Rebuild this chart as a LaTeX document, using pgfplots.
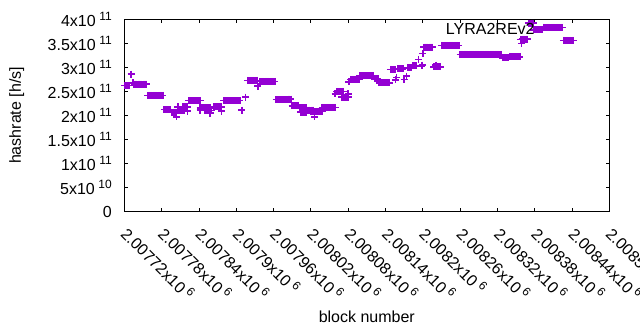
\documentclass[border=0pt]{standalone}
\usepackage{fontspec}
\setmainfont{Liberation Sans}
\usepackage{pgfplots}
\pgfplotsset{compat=1.18}
\definecolor{gpviolet}{HTML}{9400D3}
\newcommand{\sci}[2]{#1x10\hspace{0.22em}\raisebox{5.8pt}{\fontsize{12}{12}\selectfont #2}}
\begin{document}
\fontsize{16}{19}\selectfont
\begin{tikzpicture}
\useasboundingbox (-124.3pt,-118.3pt) rectangle (515.7pt,211.7pt);
\begin{axis}[
  at={(0pt,0pt)}, anchor=south west,
  scale only axis, width=485pt, height=192.4pt,
  xmin=0, xmax=780, ymin=0, ymax=4,
  clip=false,
  axis line style={line width=0.8pt},
  every tick/.style={line width=0.8pt, black},
  tick align=inside, major tick length=3.5pt,
  xtick={0,60,...,780},
  xticklabels={\sci{2.00772}{6},\sci{2.00778}{6},\sci{2.00784}{6},\sci{2.0079}{6},\sci{2.00796}{6},\sci{2.00802}{6},\sci{2.00808}{6},\sci{2.00814}{6},\sci{2.0082}{6},\sci{2.00826}{6},\sci{2.00832}{6},\sci{2.00838}{6},\sci{2.00844}{6},\sci{2.0085}{6}},
  ytick={0,0.5,1,1.5,2,2.5,3,3.5,4},
  yticklabels={0,\sci{5}{10},\sci{1}{11},\sci{1.5}{11},\sci{2}{11},\sci{2.5}{11},\sci{3}{11},\sci{3.5}{11},\sci{4}{11}},
  xticklabel style={rotate=-45, anchor=north west, xshift=8pt, yshift=0pt},
  yticklabel style={anchor=east, xshift=-7pt},
  xlabel={block number},
  ylabel={hashrate [h/s]},
  xlabel style={at={(axis description cs:0.5,-0.547)}, anchor=center},
  ylabel style={at={(axis description cs:-0.222,0.5)}, anchor=center, rotate=0},
  legend plot pos=right,
  legend style={draw=none, fill=none, at={(axis cs:509,3.78)}, anchor=west},
  legend image code/.code={\draw[mark repeat=2,mark phase=2,#1] plot coordinates {(0pt,0pt) (26pt,0pt) (34pt,0pt)};},
]
\addplot[only marks, mark=+, color=gpviolet, mark size=3.5pt, mark options={line width=1.5pt}] coordinates {
(0,2.62)(2,2.62)(4,2.62)(6,2.62)(8,2.62)
(11,2.86)(14,2.68)
(16,2.65)(18,2.65)(20,2.65)(22,2.65)(24,2.65)(26,2.65)(28,2.65)(30,2.65)(32,2.65)(34,2.65)(36,2.65)
(38,2.42)(40,2.42)(42,2.42)(44,2.42)(46,2.42)(48,2.42)(50,2.42)(52,2.42)(54,2.42)(56,2.42)(58,2.42)(60,2.42)(62,2.42)
(64,2.12)(66,2.12)(68,2.12)(70,2.12)(72,2.12)(74,2.12)
(76,2.07)(78,2.07)(80,2.07)(82,2.07)(84,2.07)(84,1.97)(86,2.18)
(86,2.11)(88,2.11)(90,2.11)(92,2.11)(94,2.11)(96,2.11)
(94,2.18)(96,2.18)(98,2.18)(100,2.18)(102,2.18)(102,2.09)
(104,2.31)(106,2.31)(108,2.31)(110,2.31)(112,2.31)(114,2.31)(116,2.31)(118,2.31)(120,2.31)(122,2.31)(122,2.11)
(122,2.16)(124,2.16)(126,2.16)(128,2.16)(130,2.16)(132,2.16)(134,2.16)(136,2.16)(138,2.16)
(130,2.10)(132,2.10)(134,2.10)(136,2.10)(138,2.10)(140,2.10)(138,2.05)
(144,2.18)(146,2.18)(148,2.18)(150,2.18)(152,2.18)(154,2.18)(156,2.18)(156,2.09)
(160,2.31)(162,2.31)(164,2.31)(166,2.31)(168,2.31)(170,2.31)(172,2.31)(174,2.31)(176,2.31)(178,2.31)(180,2.31)(182,2.31)(184,2.31)(186,2.31)
(189,2.11)(195,2.38)
(198,2.73)(200,2.73)(202,2.73)(204,2.73)(206,2.73)(208,2.73)(210,2.73)(212,2.73)(214,2.73)(215,2.61)
(218,2.71)(220,2.71)(222,2.71)(224,2.71)(226,2.71)(228,2.71)(230,2.71)(232,2.71)(234,2.71)(236,2.71)(238,2.71)(240,2.71)(242,2.71)
(244,2.33)(246,2.33)(248,2.33)(250,2.33)(252,2.33)(254,2.33)(256,2.33)(258,2.33)(260,2.33)(262,2.33)
(264,2.34)(266,2.34)(268,2.34)
(270,2.20)(272,2.20)(274,2.20)(276,2.20)(278,2.20)(280,2.20)
(282,2.16)(284,2.16)(286,2.16)(288,2.16)(290,2.16)(292,2.16)
(284,2.07)(286,2.07)(288,2.07)(290,2.07)(292,2.07)
(294,2.11)(296,2.11)(298,2.11)(300,2.11)(302,2.11)(304,2.11)(306,1.97)
(300,2.08)(302,2.08)(304,2.08)(306,2.08)(308,2.08)(310,2.08)(312,2.08)(314,2.08)(316,2.08)(318,2.08)
(318,2.17)(320,2.17)(322,2.17)(324,2.17)(326,2.17)(328,2.17)(330,2.17)(332,2.17)(334,2.17)(336,2.17)(338,2.17)(340,2.17)
(339,2.45)
(342,2.50)(344,2.50)(346,2.50)(348,2.50)(350,2.50)(352,2.50)
(350,2.38)(352,2.38)(354,2.38)(356,2.38)(358,2.38)(360,2.38)(360,2.45)(361,2.70)
(364,2.75)(366,2.75)(368,2.75)(370,2.75)(372,2.75)(374,2.75)(376,2.75)(378,2.75)
(378,2.83)(380,2.83)(382,2.83)(384,2.83)(386,2.83)(388,2.83)(390,2.83)(392,2.83)(394,2.83)(396,2.83)(398,2.83)(400,2.83)
(402,2.76)(404,2.76)(406,2.76)(408,2.76)
(410,2.68)(412,2.68)(414,2.68)(416,2.68)(418,2.68)(420,2.68)(422,2.68)(424,2.68)(426,2.68)
(428,2.96)(430,2.96)(432,2.96)(434,2.96)(436,2.96)(436,2.74)(438,2.79)
(440,2.97)(442,2.97)(444,2.97)(446,2.97)(448,2.97)(450,2.75)(454,2.82)
(456,2.99)(458,2.99)(460,2.99)(462,2.99)(464,3.03)(466,3.03)(468,3.03)(470,3.03)
(473,3.16)(478,3.03)(479,3.05)(480,3.29)
(482,3.42)(484,3.42)(486,3.42)(488,3.42)(490,3.42)(492,3.42)(494,3.42)(496,3.42)
(501,3.05)
(498,3.01)(500,3.01)(502,3.01)(504,3.01)(506,3.01)(508,3.01)
(510,3.46)(512,3.46)(514,3.46)(516,3.46)(518,3.46)(520,3.46)(522,3.46)(524,3.46)(526,3.46)(528,3.46)(530,3.46)(532,3.46)(534,3.46)(536,3.46)(538,3.46)
(540,3.27)(542,3.27)(544,3.27)(546,3.27)(548,3.27)(550,3.27)(552,3.27)(554,3.27)(556,3.27)(558,3.27)(560,3.27)(562,3.27)(564,3.27)(566,3.27)(568,3.27)(570,3.27)(572,3.27)
(574,3.27)(576,3.27)(578,3.27)(580,3.27)(582,3.27)(584,3.27)(586,3.27)(588,3.27)(590,3.27)(592,3.27)(594,3.27)(596,3.27)(598,3.27)(600,3.27)(602,3.27)(604,3.27)(606,3.27)
(608,3.20)(610,3.20)(612,3.20)(614,3.20)(616,3.20)(618,3.20)
(620,3.22)(622,3.22)(624,3.22)(626,3.22)(628,3.22)(630,3.22)(632,3.22)(634,3.22)(636,3.22)
(637,3.58)(639,3.50)
(640,3.59)(642,3.59)(644,3.59)(646,3.59)(648,3.59)
(650,3.92)(652,3.92)(654,3.92)(656,3.92)(658,3.92)
(658,3.78)(660,3.78)(662,3.78)(664,3.78)(666,3.78)(668,3.78)(670,3.78)(672,3.78)
(674,3.83)(676,3.83)(678,3.83)(680,3.83)(682,3.83)(684,3.83)(686,3.83)(688,3.83)(690,3.83)(692,3.83)(694,3.83)(696,3.83)(698,3.83)(700,3.83)(702,3.83)(704,3.83)
(706,3.56)(708,3.56)(710,3.56)(712,3.56)(714,3.56)(716,3.56)(718,3.56)(720,3.56)(722,3.56)
};
\addlegendentry{LYRA2REv2}
\end{axis}
\end{tikzpicture}
\end{document}
